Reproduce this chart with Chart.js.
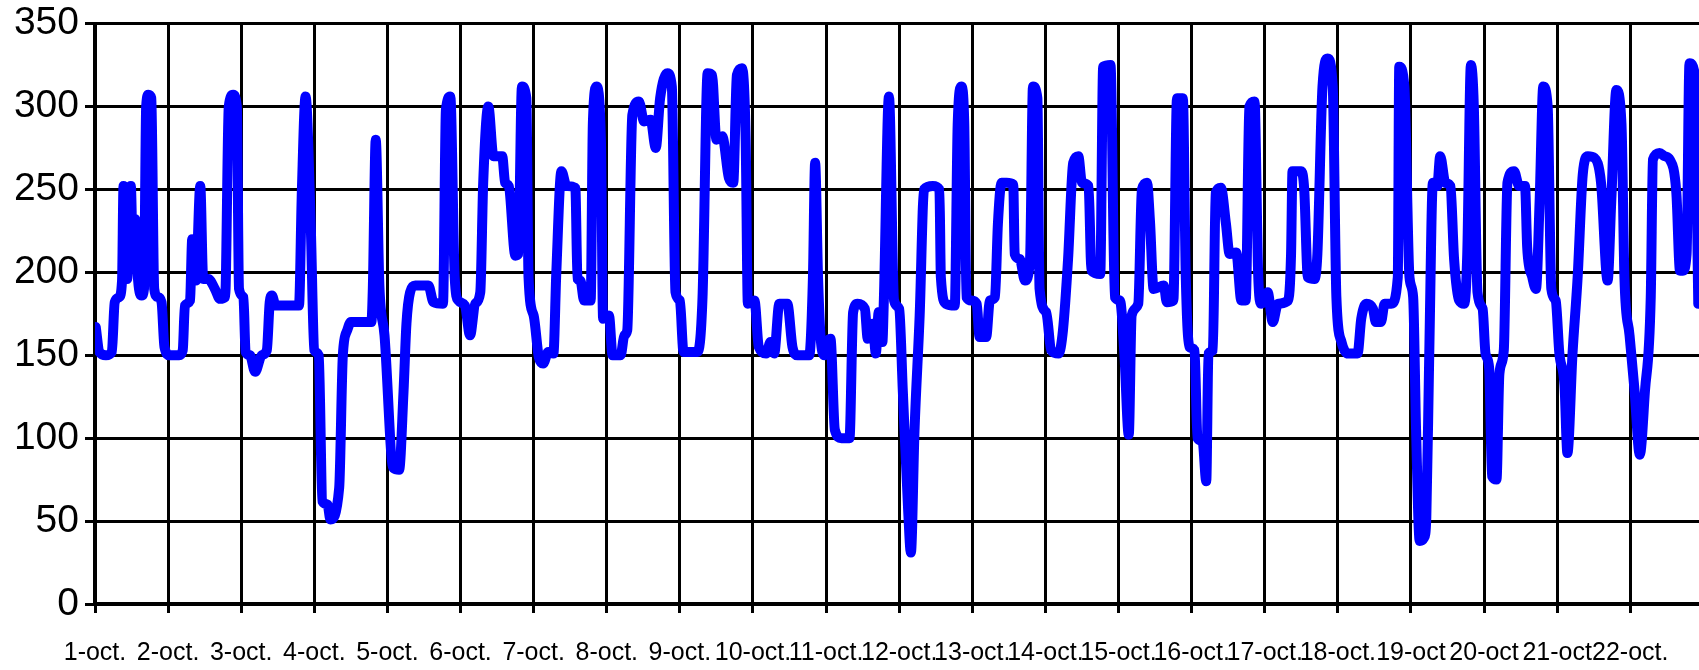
<!DOCTYPE html>
<html>
<head>
<meta charset="utf-8">
<script src="https://cdn.jsdelivr.net/npm/chart.js@4"></script>
<style>
  html, body { margin: 0; padding: 0; background: #fff; }
  #wrap { width: 1699px; height: 670px; }
</style>
</head>
<body>
<div id="wrap"><canvas id="chart" width="1699" height="670"></canvas></div>
<script>
// Day labels under the x axis
const dayLabels = ["1-oct.", "2-oct.", "3-oct.", "4-oct.", "5-oct.", "6-oct.", "7-oct.", "8-oct.",
  "9-oct.", "10-oct.", "11-oct.", "12-oct.", "13-oct.", "14-oct.", "15-oct.", "16-oct.",
  "17-oct.", "18-oct.", "19-oct", "20-oct", "21-oct", "22-oct."];

// Y axis ticks
const yTicks = [0, 50, 100, 150, 200, 250, 300, 350];

// Time of each reading (days after 1-oct) and its value
const readingDays = [
  0.01, 0.06, 0.15, 0.23, 0.27, 0.33, 0.37, 0.39, 0.44, 0.49, 0.52, 0.55, 0.59, 0.64, 0.67, 0.70, 0.73, 0.77,
  0.81, 0.86, 0.91, 0.95, 1.02, 1.15, 1.20, 1.23, 1.30, 1.33, 1.38, 1.44, 1.48, 1.55, 1.64, 1.71, 1.78, 1.83,
  1.89, 1.94, 1.97, 2.03, 2.06, 2.12, 2.19, 2.28, 2.35, 2.39, 2.42, 2.47, 2.79, 2.83, 2.88, 2.95, 3.00, 3.06,
  3.11, 3.18, 3.22, 3.34, 3.39, 3.45, 3.50, 3.78, 3.80, 3.84, 3.89, 3.96, 4.08, 4.16, 4.22, 4.26, 4.31, 4.38,
  4.56, 4.63, 4.76, 4.80, 4.86, 4.92, 4.97, 5.06, 5.13, 5.20, 5.27, 5.31, 5.38, 5.45, 5.57, 5.61, 5.66, 5.75,
  5.79, 5.84, 5.90, 5.93, 6.00, 6.07, 6.13, 6.20, 6.27, 6.31, 6.38, 6.45, 6.57, 6.60, 6.64, 6.69, 6.78, 6.81,
  6.86, 6.92, 6.95, 7.03, 7.08, 7.19, 7.24, 7.28, 7.35, 7.44, 7.51, 7.60, 7.67, 7.73, 7.83, 7.89, 7.94, 8.00,
  8.05, 8.24, 8.31, 8.38, 8.44, 8.50, 8.58, 8.67, 8.73, 8.78, 8.85, 8.90, 8.93, 9.02, 9.08, 9.18, 9.24, 9.29,
  9.36, 9.47, 9.54, 9.61, 9.77, 9.82, 9.85, 9.89, 9.93, 9.98, 10.02, 10.06, 10.12, 10.21, 10.32, 10.37, 10.43,
  10.53, 10.57, 10.64, 10.68, 10.72, 10.77, 10.79, 10.86, 10.93, 11.00, 11.05, 11.12, 11.16, 11.21, 11.28,
  11.34, 11.46, 11.55, 11.57, 11.64, 11.76, 11.80, 11.85, 11.89, 11.92, 11.99, 12.06, 12.10, 12.19, 12.24,
  12.31, 12.35, 12.40, 12.47, 12.56, 12.58, 12.65, 12.72, 12.79, 12.83, 12.89, 12.92, 13.01, 13.08, 13.18,
  13.24, 13.31, 13.38, 13.45, 13.50, 13.59, 13.63, 13.75, 13.79, 13.89, 13.95, 14.02, 14.08, 14.14, 14.18,
  14.27, 14.32, 14.39, 14.43, 14.48, 14.62, 14.66, 14.75, 14.80, 14.88, 14.92, 14.97, 15.04, 15.08, 15.15,
  15.20, 15.23, 15.29, 15.33, 15.40, 15.47, 15.52, 15.61, 15.68, 15.74, 15.79, 15.86, 15.91, 15.95, 16.04,
  16.11, 16.18, 16.32, 16.36, 16.38, 16.50, 16.54, 16.59, 16.68, 16.72, 16.79, 16.86, 16.93, 16.98, 17.05,
  17.14, 17.27, 17.32, 17.39, 17.48, 17.52, 17.59, 17.64, 17.73, 17.82, 17.84, 17.91, 17.98, 18.03, 18.07,
  18.12, 18.18, 18.21, 18.25, 18.30, 18.36, 18.40, 18.47, 18.54, 18.59, 18.66, 18.73, 18.77, 18.82, 18.86,
  18.91, 18.98, 19.02, 19.07, 19.11, 19.17, 19.21, 19.27, 19.32, 19.41, 19.48, 19.56, 19.59, 19.66, 19.71,
  19.76, 19.81, 19.87, 19.92, 19.98, 20.03, 20.10, 20.14, 20.21, 20.28, 20.35, 20.42, 20.51, 20.60, 20.69,
  20.74, 20.81, 20.88, 20.92, 20.99, 21.06, 21.13, 21.20, 21.28, 21.31, 21.40, 21.47, 21.54, 21.63, 21.68,
  21.72, 21.77, 21.81, 21.88, 21.93
];

const readingValues = [
  167, 152, 150, 152, 182, 185, 195, 252, 196, 252, 205, 232, 195, 186, 190, 300, 307, 305,
  190, 185, 182, 155, 150, 150, 153, 180, 183, 220, 195, 252, 196, 196, 190, 184, 185, 300,
  307, 300, 190, 185, 152, 150, 140, 150, 153, 182, 186, 180, 180, 250, 306, 230, 153, 150,
  62, 60, 51, 70, 150, 165, 170, 170, 190, 280, 192, 162, 82, 81, 128, 169, 188, 192,
  192, 182, 181, 298, 306, 197, 183, 180, 162, 181, 188, 254, 300, 270, 270, 254, 252, 210,
  211, 312, 305, 197, 174, 149, 145, 152, 151, 200, 261, 252, 251, 196, 195, 183, 183, 290,
  312, 280, 172, 174, 150, 150, 162, 165, 295, 303, 291, 292, 275, 305, 320, 312, 188, 183,
  152, 152, 185, 320, 319, 280, 282, 257, 254, 319, 323, 280, 181, 183, 155, 151, 158, 151,
  181, 181, 155, 150, 150, 197, 266, 197, 158, 150, 158, 160, 105, 100, 100, 176, 181,
  178, 160, 169, 151, 176, 158, 183, 306, 183, 178, 128, 59, 31, 105, 174,
  250, 252, 250, 197, 181, 180, 289, 312, 290, 185, 183, 181, 161, 161, 183,
  185, 229, 254, 254, 253, 211, 208, 195, 208, 312, 305, 190, 176, 153, 151,
  165, 208, 266, 270, 254, 252, 201, 199, 324, 325, 185, 183, 151, 102, 174,
  181, 250, 254, 231, 190, 192, 182, 183, 305, 305, 197, 155, 153, 100, 98,
  74, 151, 153, 248, 251, 229, 211, 212, 183, 183, 300, 303, 199, 181, 188,
  170, 181, 183, 211, 261, 261, 250, 197, 196, 211, 312, 329, 312, 185, 158,
  151, 151, 172, 181, 178, 170, 170, 181, 181, 197, 324, 312, 197, 185, 105,
  38, 40, 52, 150, 254, 252, 270, 254, 252, 208, 183, 181, 211, 325, 300,
  188, 178, 151, 142, 77, 75, 139, 153, 254, 261, 252, 252, 215, 197, 190,
  243, 312, 300, 190, 183, 151, 132, 91, 151, 197, 259, 270, 269, 254, 195,
  243, 310, 289, 197, 162, 128, 90, 128, 185, 268, 272, 270, 268, 248, 201,
  201, 211, 326, 320, 181
];

const points = readingDays.map((d, i) => ({ x: d, y: readingValues[i] }));

const fontFamily = "'Liberation Sans', Arial, sans-serif";

new Chart(document.getElementById("chart").getContext("2d"), {
  type: "line",
  data: {
    datasets: [
      {
        data: points,
        borderColor: "#0000ff",
        borderWidth: 10,
        borderJoinStyle: "round",
        borderCapStyle: "round",
        pointRadius: 0,
        cubicInterpolationMode: "monotone",
        fill: false,
      },
    ],
  },
  options: {
    responsive: false,
    animation: false,
    events: [],
    layout: { padding: { top: 0, right: 0, left: 0, bottom: 0 } },
    plugins: {
      legend: { display: false },
      tooltip: { enabled: false },
    },
    scales: {
      x: {
        type: "linear",
        min: 0,
        max: 21.94,
        afterBuildTicks: (scale) => {
          scale.ticks = dayLabels.map((_, i) => ({ value: i }));
        },
        afterFit: (scale) => {
          scale.height = 66;
        },
        ticks: {
          autoSkip: false,
          maxRotation: 0,
          minRotation: 0,
          padding: 25,
          color: "#000",
          font: { family: fontFamily, size: 25 },
          callback: (value) => dayLabels[value],
        },
        grid: {
          color: "#000",
          lineWidth: 3,
          tickLength: 9,
          tickColor: "#000",
        },
        border: { color: "#000", width: 4 },
      },
      y: {
        min: 0,
        max: 350,
        afterBuildTicks: (scale) => {
          scale.ticks = yTicks.map((v) => ({ value: v }));
        },
        afterFit: (scale) => {
          scale.width = 95;
        },
        ticks: {
          padding: 6,
          color: "#000",
          font: { family: fontFamily, size: 39, lineHeight: 0.9 },
        },
        grid: {
          color: "#000",
          lineWidth: 3,
          tickLength: 10,
          tickColor: "#000",
        },
        border: { color: "#000", width: 4 },
      },
    },
  },
});
</script>
</body>
</html>
